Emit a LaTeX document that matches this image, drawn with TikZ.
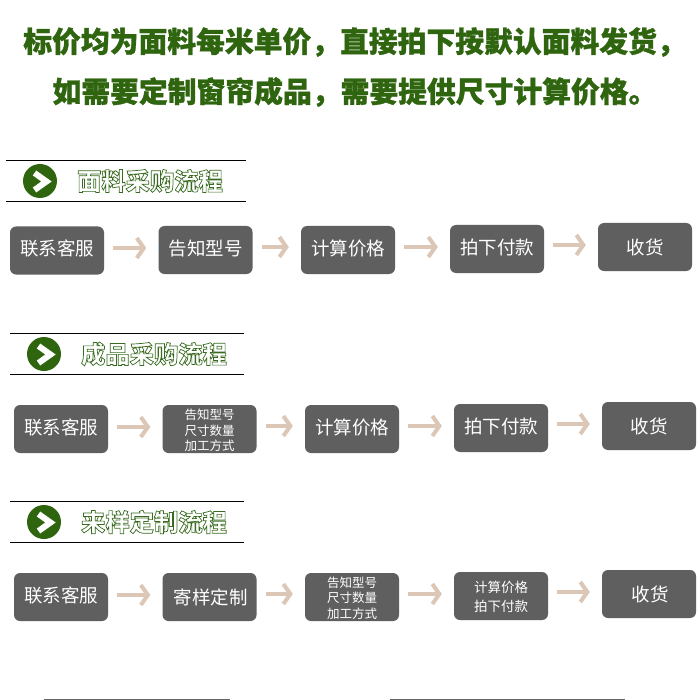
\documentclass[tikz,border=0pt]{standalone}
\usepackage{fontspec}
\usetikzlibrary{arrows.meta}
\newfontfamily\cjk{Noto Sans CJK SC}
\definecolor{titlegreen}{HTML}{2F650F}
\definecolor{boxgrey}{HTML}{5F5F5F}
\definecolor{arrowtan}{HTML}{DCC6B6}
\newcommand{\outlined}[1]{\special{pdf:code q 2 Tr 0.7 w 0.22 0.42 0.12 RG 1 1 1 rg}#1\special{pdf:code 0 Tr Q}}
\newcommand{\heavy}[1]{\special{pdf:code q 2 Tr 0.3 w 0.184 0.396 0.059 RG 0.184 0.396 0.059 rg}#1\special{pdf:code 0 Tr Q}}
\tikzset{
  titletext/.style={inner sep=0,text=titlegreen,font={\cjk\bfseries\fontsize{28.8}{32}\selectfont}},
  flowbox/.style={fill=boxgrey,rounded corners=6pt,minimum width=94pt,minimum height=48pt,inner sep=0,text=white,align=center,font={\cjk\fontsize{18.5}{22}\selectfont}},
  lift/.style={text depth=5.5pt},
  smalltext/.style={font={\cjk\fontsize{12.5}{15.5}\selectfont}},
  midtext/.style={font={\cjk\fontsize{13.5}{19}\selectfont}},
  flowarrow/.style={draw=arrowtan,line width=4pt,shorten <=9pt,shorten >=12pt,-{Straight Barb[length=7pt,width=20pt,line width=4pt]}},
  ruleline/.style={draw=black,line width=0.8pt},
  badge/.style={circle,fill=titlegreen,minimum size=34pt,inner sep=0},
  chevron/.style={draw=white,line width=6pt,line join=miter},
  headtext/.style={inner sep=0,font={\cjk\bfseries\fontsize{24.3}{28}\selectfont}},
}
\begin{document}
\begin{tikzpicture}[x=1pt,y=-1pt]
\useasboundingbox[fill=white] (0,0) rectangle (700,700);
\node[titletext] (t1) at (354.5,42) {\heavy{标价均为面料每米单价，直接拍下按默认面料发货，}};
\node[titletext] (t2) at (355,92) {\heavy{如需要定制窗帘成品，需要提供尺寸计算价格。}};

% section 1
\draw[ruleline] (6,160.5) -- (246,160.5);
\draw[ruleline] (6,201.5) -- (246,201.5);
\node[badge] (b1) at (40,181) {};
\draw[chevron] (34.5,173) -- (46.5,181.5) -- (34.5,190);
\node[headtext] (h1) at (150,181) {\outlined{面料采购流程}};
\node[flowbox,lift] (a1) at (57,250.5) {联系客服};
\node[flowbox,lift] (a2) at (205.5,250) {告知型号};
\node[flowbox,lift] (a3) at (348,250) {计算价格};
\node[flowbox,lift] (a4) at (497,249) {拍下付款};
\node[flowbox] (a5) at (645,247) {收货};
\draw[flowarrow] ([yshift=2.5pt]a1.east) -- ([yshift=2pt]a2.west);
\draw[flowarrow] ([yshift=3pt]a2.east) -- ([yshift=3pt]a3.west);
\draw[flowarrow] ([yshift=3pt]a3.east) -- ([yshift=2pt]a4.west);
\draw[flowarrow] ([yshift=4pt]a4.east) -- ([yshift=2pt]a5.west);

% section 2
\draw[ruleline] (10,333.5) -- (244,333.5);
\draw[ruleline] (10,374.5) -- (244,374.5);
\node[badge] (b2) at (44,354) {};
\draw[chevron] (38.5,346) -- (50.5,354.5) -- (38.5,363);
\node[headtext] (h2) at (154,354) {\outlined{成品采购流程}};
\node[flowbox,lift] (c1) at (61,429) {联系客服};
\node[flowbox,smalltext] (c2) at (209.5,429) {\rule{0pt}{14pt}告知型号\\尺寸数量\\加工方式};
\node[flowbox,lift] (c3) at (352,429) {计算价格};
\node[flowbox,lift] (c4) at (501,428) {拍下付款};
\node[flowbox] (c5) at (649,426) {收货};
\draw[flowarrow] ([yshift=2pt]c1.east) -- ([yshift=2pt]c2.west);
\draw[flowarrow] ([yshift=3pt]c2.east) -- ([yshift=3pt]c3.west);
\draw[flowarrow] ([yshift=3pt]c3.east) -- ([yshift=2pt]c4.west);
\draw[flowarrow] ([yshift=4pt]c4.east) -- ([yshift=2pt]c5.west);

% section 3
\draw[ruleline] (10,501.5) -- (244,501.5);
\draw[ruleline] (10,542.5) -- (244,542.5);
\node[badge] (b3) at (44,522) {};
\draw[chevron] (38.5,514) -- (50.5,522.5) -- (38.5,531);
\node[headtext] (h3) at (154,522) {\outlined{来样定制流程}};
\node[flowbox,lift] (d1) at (61,597) {联系客服};
\node[flowbox] (d2) at (209.5,597) {\hspace{2pt}寄样定制};
\node[flowbox,smalltext] (d3) at (352,597) {\rule{0pt}{13pt}告知型号\\尺寸数量\\加工方式};
\node[flowbox,midtext] (d4) at (501,596) {\rule{0pt}{14pt}计算价格\\拍下付款};
\node[flowbox] (d5) at (649,594) {\hspace{2pt}收货};
\draw[flowarrow] ([yshift=2pt]d1.east) -- ([yshift=2pt]d2.west);
\draw[flowarrow] ([yshift=3pt]d2.east) -- ([yshift=3pt]d3.west);
\draw[flowarrow] ([yshift=3pt]d3.east) -- ([yshift=2pt]d4.west);
\draw[flowarrow] ([yshift=4pt]d4.east) -- ([yshift=2pt]d5.west);

% photo edges cut off by the bottom margin
\fill[black!60] (44,698.5) rectangle (230,700);
\fill[black!60] (390,698.5) rectangle (625,700);
\end{tikzpicture}
\end{document}
